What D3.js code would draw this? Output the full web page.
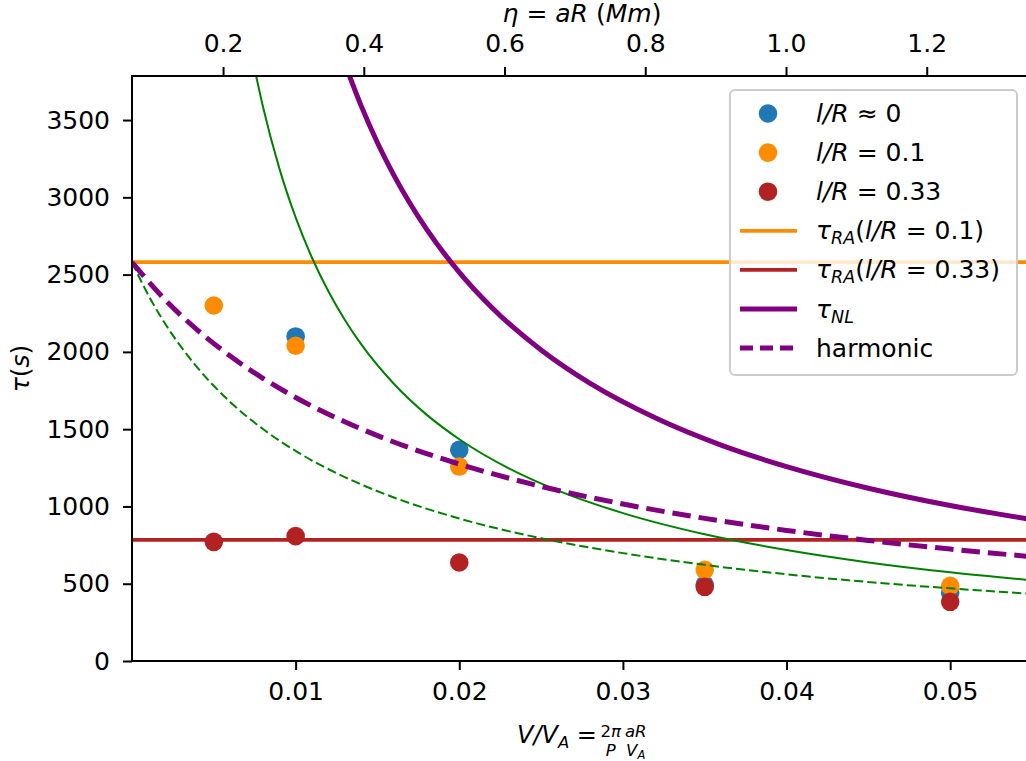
<!DOCTYPE html>
<html>
<head>
<meta charset="utf-8">
<script src="https://cdn.jsdelivr.net/npm/d3@7"></script>
<style>
  body { margin: 0; background: #ffffff; }
  svg { display: block; font-family: "DejaVu Sans", sans-serif; }
</style>
</head>
<body>
<svg id="chart" width="1026" height="761"></svg>
<script>
// ---- data ----
const xTickValues = [0.01, 0.02, 0.03, 0.04, 0.05];
const yTickValues = [0, 500, 1000, 1500, 2000, 2500, 3000, 3500];
const etaTickValues = [0.2, 0.4, 0.6, 0.8, 1.0, 1.2];

// measured damping times
const xL0 = [0.01, 0.02, 0.035, 0.05];
const tauL0 = [2100, 1366, 493, 441];
const xL01 = [0.005, 0.01, 0.02, 0.035, 0.05];
const tauL01 = [2300, 2040, 1258, 590, 486];
const xL033 = [0.005, 0.01, 0.02, 0.035, 0.05];
const tauL033 = [771, 808, 637, 480, 383];

// resonant absorption levels
const tauRA01 = 2580;
const tauRA033 = 784;

// nonlinear damping time
const xNL = [0.0132, 0.014, 0.015, 0.016, 0.018, 0.02, 0.022, 0.025, 0.028, 0.032, 0.036, 0.04, 0.045, 0.05, 0.055];
const tauNL = [3811, 3593, 3353, 3144, 2794, 2515, 2286, 2012, 1796, 1572, 1397, 1258, 1118, 1006, 915];

// combined (harmonic) time
const xHarm = [0, 0.002, 0.004, 0.006, 0.008, 0.01, 0.013, 0.016, 0.02, 0.025, 0.03, 0.035, 0.04, 0.045, 0.05, 0.055];
const tauHarm = [2580, 2340, 2141, 1973, 1829, 1705, 1548, 1417, 1274, 1130, 1016, 923, 845, 780, 724, 675];

// green reference curves
const xGreen = [0.0075, 0.008, 0.009, 0.010, 0.011, 0.012, 0.013, 0.014, 0.016, 0.018, 0.02, 0.023, 0.026, 0.03, 0.035, 0.04, 0.045, 0.05, 0.055];
const tauGreen = [3827, 3588, 3189, 2870, 2609, 2392, 2208, 2050, 1794, 1594, 1435, 1248, 1104, 957, 820, 718, 638, 574, 522];
const xGreenDash = [0, 0.001, 0.002, 0.004, 0.006, 0.008, 0.01, 0.013, 0.016, 0.02, 0.025, 0.03, 0.035, 0.04, 0.045, 0.05, 0.055];
const tauGreenDash = [2580, 2367, 2187, 1898, 1676, 1501, 1359, 1190, 1058, 922, 794, 698, 622, 561, 511, 470, 434];

// ---- layout ----
const svg = d3.select("#chart");
const L = 132, R = 1032, T = 76, B = 661;
const FS = 25;

const x = d3.scaleLinear().domain([0, 0.055]).range([L, R]);
const y = d3.scaleLinear().domain([0, 3785]).range([B, T]);
const xTop = d3.scaleLinear().domain([0.0706, 1.3496]).range([L, R]);

const C = {
  blue: "#1f77b4",
  orange: "#ff8c00",
  red: "#b22222",
  purple: "#800080",
  green: "#008000"
};

svg.append("defs").append("clipPath").attr("id", "plotClip")
  .append("rect").attr("x", L).attr("y", T).attr("width", R - L).attr("height", B - T);

const plot = svg.append("g").attr("clip-path", "url(#plotClip)");

// points
function dots(xs, ys, color) {
  plot.append("g").selectAll("circle")
    .data(xs.map((v, i) => [v, ys[i]]))
    .join("circle")
    .attr("cx", d => x(d[0]))
    .attr("cy", d => y(d[1]))
    .attr("r", 9.3)
    .attr("fill", color);
}
dots(xL0, tauL0, C.blue);
dots(xL01, tauL01, C.orange);
dots(xL033, tauL033, C.red);

// lines
function curve(xs, ys, color, width, dash) {
  const line = d3.line().x(d => x(d[0])).y(d => y(d[1])).curve(d3.curveMonotoneX);
  const p = plot.append("path")
    .datum(xs.map((v, i) => [v, ys[i]]))
    .attr("d", line)
    .attr("fill", "none")
    .attr("stroke", color)
    .attr("stroke-width", width);
  if (dash) p.attr("stroke-dasharray", dash);
}
curve([0, 0.055], [tauRA01, tauRA01], C.orange, 3.75);
curve([0, 0.055], [tauRA033, tauRA033], C.red, 3.75);
curve(xGreen, tauGreen, C.green, 2);
curve(xGreenDash, tauGreenDash, C.green, 2, "9.2 4");
curve(xNL, tauNL, C.purple, 5);
curve(xHarm, tauHarm, C.purple, 5, "18.5 8");

// ---- axes ----
function styleAxis(g) {
  g.select(".domain").remove();
  g.selectAll(".tick line").attr("stroke", "#000").attr("stroke-width", 2);
  g.selectAll(".tick text").attr("fill", "#000").attr("font-size", FS)
    .attr("font-family", "DejaVu Sans, sans-serif");
}

svg.append("g").attr("transform", `translate(0,${B})`)
  .call(d3.axisBottom(x).tickValues(xTickValues).tickFormat(d3.format(".2f")).tickSize(9).tickPadding(12))
  .call(styleAxis);

svg.append("g").attr("transform", `translate(${L},0)`)
  .call(d3.axisLeft(y).tickValues(yTickValues).tickFormat(d3.format("d")).tickSize(9).tickPadding(13))
  .call(styleAxis);

svg.append("g").attr("transform", `translate(0,${T})`)
  .call(d3.axisTop(xTop).tickValues(etaTickValues).tickFormat(d3.format(".1f")).tickSize(9).tickPadding(15))
  .call(styleAxis);

// spines
svg.append("rect").attr("x", L).attr("y", T).attr("width", R - L).attr("height", B - T)
  .attr("fill", "none").attr("stroke", "#000").attr("stroke-width", 2);

// ---- axis labels ----
// y label
const yl = svg.append("text")
  .attr("transform", `translate(29,${(T + B) / 2}) rotate(-90)`)
  .attr("text-anchor", "middle").attr("font-size", FS).attr("fill", "#000");
yl.append("tspan").attr("font-style", "italic").text("τ");
yl.append("tspan").text("(");
yl.append("tspan").attr("font-style", "italic").text("s");
yl.append("tspan").text(")");

// top label
const tl = svg.append("text")
  .attr("x", (L + R) / 2).attr("y", 22)
  .attr("text-anchor", "middle").attr("font-size", FS).attr("fill", "#000");
tl.append("tspan").attr("font-style", "italic").text("η");
tl.append("tspan").text(" = ");
tl.append("tspan").attr("font-style", "italic").text("aR");
tl.append("tspan").text(" (");
tl.append("tspan").attr("font-style", "italic").text("Mm");
tl.append("tspan").text(")");

// bottom label: V/V_A = (2π/P)(aR/V_A)
const xl = svg.append("g");
const mainFS = 24, fracFS = 16.5;
const base = 743;
const lead = xl.append("text").attr("x", 0).attr("y", base).attr("font-size", mainFS).attr("fill", "#000");
lead.append("tspan").attr("font-style", "italic").text("V/V");
lead.append("tspan").attr("font-style", "italic").attr("font-size", 16.5).attr("dy", 5).text("A");
lead.append("tspan").attr("dy", -5).text(" = ");
let cursor = lead.node().getComputedTextLength() + 3;

function fraction(numParts, denParts) {
  const num = xl.append("text").attr("y", base - 6.5).attr("font-size", fracFS).attr("fill", "#000").attr("text-anchor", "middle");
  numParts.forEach(p => { const t = num.append("tspan").text(p.t); if (p.i) t.attr("font-style", "italic"); if (p.sub) t.attr("font-size", 11.5).attr("dy", 3); });
  const den = xl.append("text").attr("y", base + 12.5).attr("font-size", fracFS).attr("fill", "#000").attr("text-anchor", "middle");
  denParts.forEach(p => { const t = den.append("tspan").text(p.t); if (p.i) t.attr("font-style", "italic"); if (p.sub) t.attr("font-size", 11.5).attr("dy", 3); });
  const w = Math.max(num.node().getComputedTextLength(), den.node().getComputedTextLength()) + 1;
  num.attr("x", cursor + w / 2);
  den.attr("x", cursor + w / 2);
  cursor += w + 3;
}
fraction([{ t: "2" }, { t: "π", i: true }], [{ t: "P", i: true }]);
fraction([{ t: "aR", i: true }], [{ t: "V", i: true }, { t: "A", i: true, sub: true }]);
const labelW = cursor - 3;
xl.attr("transform", `translate(${(L + R) / 2 - labelW / 2},0)`);

// ---- legend ----
const lg = svg.append("g");
lg.append("rect").attr("x", 730).attr("y", 90).attr("width", 287).attr("height", 285)
  .attr("rx", 5).attr("fill", "#ffffff").attr("fill-opacity", 0.8)
  .attr("stroke", "#cccccc").attr("stroke-width", 2);

const rowY = i => 113.5 + i * 39.1;
const textX = 816;

function legendText(i, parts) {
  const t = lg.append("text").attr("x", textX).attr("y", rowY(i) + 8.5).attr("font-size", FS).attr("fill", "#000");
  parts.forEach(p => {
    const s = t.append("tspan").text(p.t);
    if (p.i) s.attr("font-style", "italic");
    if (p.sub) s.attr("font-size", 17.5).attr("dy", 5);
    if (p.up) s.attr("dy", -5);
  });
}
function legendDot(i, color) {
  lg.append("circle").attr("cx", 768).attr("cy", rowY(i)).attr("r", 9.3).attr("fill", color);
}
function legendLine(i, color, width, dash) {
  const l = lg.append("line").attr("x1", 740).attr("x2", 797).attr("y1", rowY(i)).attr("y2", rowY(i))
    .attr("stroke", color).attr("stroke-width", width);
  if (dash) l.attr("stroke-dasharray", dash);
}

legendDot(0, C.blue);
legendText(0, [{ t: "l/R", i: true }, { t: " ≈ 0" }]);
legendDot(1, C.orange);
legendText(1, [{ t: "l/R", i: true }, { t: " = 0.1" }]);
legendDot(2, C.red);
legendText(2, [{ t: "l/R", i: true }, { t: " = 0.33" }]);
legendLine(3, C.orange, 3.75);
legendText(3, [{ t: "τ", i: true }, { t: "RA", i: true, sub: true }, { t: "(", up: true }, { t: "l/R", i: true }, { t: " = 0.1)" }]);
legendLine(4, C.red, 3.75);
legendText(4, [{ t: "τ", i: true }, { t: "RA", i: true, sub: true }, { t: "(", up: true }, { t: "l/R", i: true }, { t: " = 0.33)" }]);
legendLine(5, C.purple, 5);
legendText(5, [{ t: "τ", i: true }, { t: "NL", i: true, sub: true }]);
legendLine(6, C.purple, 5, "13 7");
legendText(6, [{ t: "harmonic" }]);
</script>
</body>
</html>
